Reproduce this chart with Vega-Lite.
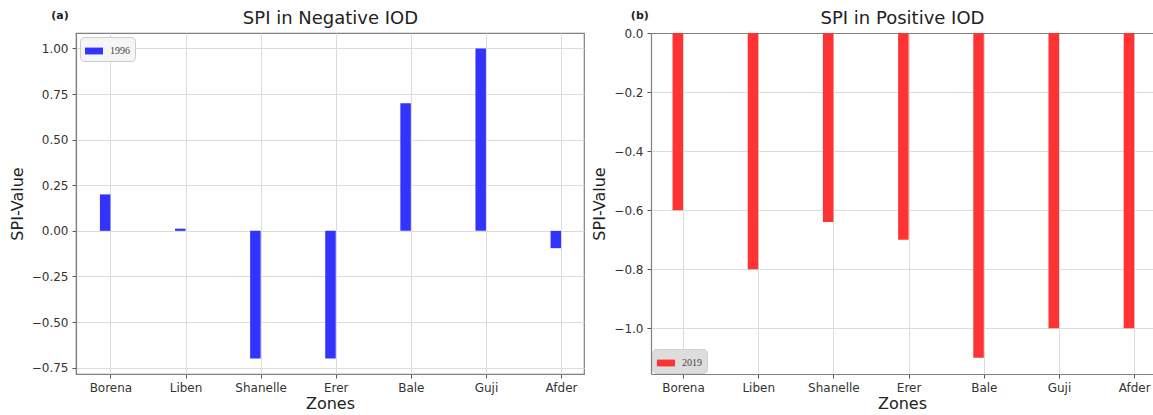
{
  "$schema": "https://vega.github.io/schema/vega-lite/v6.json",
  "background": "white",
  "padding": {"left": 8, "top": 8, "right": 0, "bottom": 0},
  "spacing": 6,
  "resolve": {"scale": {"color": "independent"}, "legend": {"color": "independent"}},
  "datasets": {
    "neg": [
      {"zone": "Borena", "year": "1996", "spi": 0.2},
      {"zone": "Liben", "year": "1996", "spi": 0.012},
      {"zone": "Shanelle", "year": "1996", "spi": -0.7},
      {"zone": "Erer", "year": "1996", "spi": -0.7},
      {"zone": "Bale", "year": "1996", "spi": 0.7},
      {"zone": "Guji", "year": "1996", "spi": 1.0},
      {"zone": "Afder", "year": "1996", "spi": -0.095}
    ],
    "pos": [
      {"zone": "Borena", "year": "2019", "spi": -0.6},
      {"zone": "Liben", "year": "2019", "spi": -0.8},
      {"zone": "Shanelle", "year": "2019", "spi": -0.64},
      {"zone": "Erer", "year": "2019", "spi": -0.7},
      {"zone": "Bale", "year": "2019", "spi": -1.1},
      {"zone": "Guji", "year": "2019", "spi": -1.0},
      {"zone": "Afder", "year": "2019", "spi": -1.0}
    ]
  },
  "config": {
    "font": "DejaVu Sans",
    "axis": {
      "labelFont": "DejaVu Sans",
      "labelFontSize": 12,
      "labelColor": "#333333",
      "titleFont": "DejaVu Sans",
      "titleFontSize": 16,
      "titleFontWeight": "normal",
      "titleColor": "#222222",
      "tickColor": "#555555",
      "tickSize": 4,
      "domainColor": "#808080",
      "domainWidth": 1.2,
      "gridColor": "#dcdcdc",
      "gridWidth": 1,
      "labelPadding": 4
    },
    "view": {"stroke": "#808080", "strokeWidth": 1.2},
    "title": {"font": "DejaVu Sans", "fontSize": 11, "fontWeight": "bold", "color": "#222222", "anchor": "start"},
    "legend": {
      "labelFont": "Liberation Serif",
      "labelFontSize": 10,
      "labelColor": "#444444",
      "symbolType": "M-1,-0.38H1V0.38H-1Z",
      "symbolSize": 324,
      "symbolStrokeWidth": 0,
      "labelOffset": 7,
      "padding": 5,
      "cornerRadius": 4
    }
  },
  "hconcat": [
    {
      "width": 508,
      "height": 341,
      "data": {"name": "neg"},
      "title": {"text": "(a)", "dx": 42, "offset": -12},
      "layer": [
        {
          "mark": {"type": "bar", "width": 10.5, "xOffset": -5.25},
          "encoding": {
            "x": {
              "field": "zone", "type": "nominal", "sort": null,
              "scale": {"type": "point", "padding": 0.382, "align": 0.6},
              "axis": {"title": "Zones", "labelAngle": 0, "grid": true, "titlePadding": 2}
            },
            "y": {
              "field": "spi", "type": "quantitative",
              "scale": {"domain": [-0.785, 1.085], "nice": false, "zero": false},
              "axis": {
                "title": "SPI-Value", "grid": true, "format": ".2f",
                "values": [-0.75, -0.5, -0.25, 0, 0.25, 0.5, 0.75, 1.0],
                "labelExpr": "replace(datum.label, '-', '\u2212')",
                "titlePadding": 6
              }
            },
            "color": {
              "field": "year", "type": "nominal",
              "scale": {"range": ["#3333ff"]},
              "legend": {"title": null, "orient": "top-left", "offset": 4, "fillColor": "#f5f5f5", "strokeColor": "#cccccc"}
            }
          }
        },
        {
          "mark": {"type": "tick", "opacity": 0},
          "encoding": {
            "x": {
              "field": "zone", "type": "nominal", "sort": null,
              "axis": {"orient": "top", "title": "SPI in Negative IOD", "labels": false, "ticks": false, "domain": false, "grid": false, "titleFontSize": 18, "titlePadding": 6}
            },
            "y": {"field": "spi", "type": "quantitative"}
          }
        }
      ],
      "resolve": {"axis": {"x": "independent"}}
    },
    {
      "width": 502,
      "height": 341,
      "data": {"name": "pos"},
      "title": {"text": "(b)", "dx": 39, "offset": -12},
      "view": {"stroke": null},
      "layer": [
        {
          "mark": {"type": "bar", "width": 10.5, "xOffset": -5.25},
          "encoding": {
            "x": {
              "field": "zone", "type": "nominal", "sort": null,
              "scale": {"type": "point", "padding": 0.338, "align": 0.63},
              "axis": {"title": "Zones", "labelAngle": 0, "grid": true, "titlePadding": 2}
            },
            "y": {
              "field": "spi", "type": "quantitative",
              "scale": {"domain": [-1.155, 0], "nice": false, "zero": false},
              "axis": {
                "title": "SPI-Value", "grid": true, "format": ".1f",
                "values": [-1.0, -0.8, -0.6, -0.4, -0.2, 0],
                "labelExpr": "replace(datum.label, '-', '\u2212')",
                "titlePadding": 6
              }
            },
            "color": {
              "field": "year", "type": "nominal",
              "scale": {"range": ["#ff3333"]},
              "legend": {"title": null, "orient": "bottom-left", "offset": 1, "fillColor": "#dddddd", "strokeColor": "#d0d0d0"}
            }
          }
        },
        {
          "mark": {"type": "tick", "opacity": 0},
          "encoding": {
            "x": {
              "field": "zone", "type": "nominal", "sort": null,
              "axis": {"orient": "top", "title": "SPI in Positive IOD", "labels": false, "ticks": false, "domain": true, "grid": false, "titleFontSize": 18, "titlePadding": 6}
            },
            "y": {"field": "spi", "type": "quantitative"}
          }
        }
      ],
      "resolve": {"axis": {"x": "independent"}}
    }
  ]
}
